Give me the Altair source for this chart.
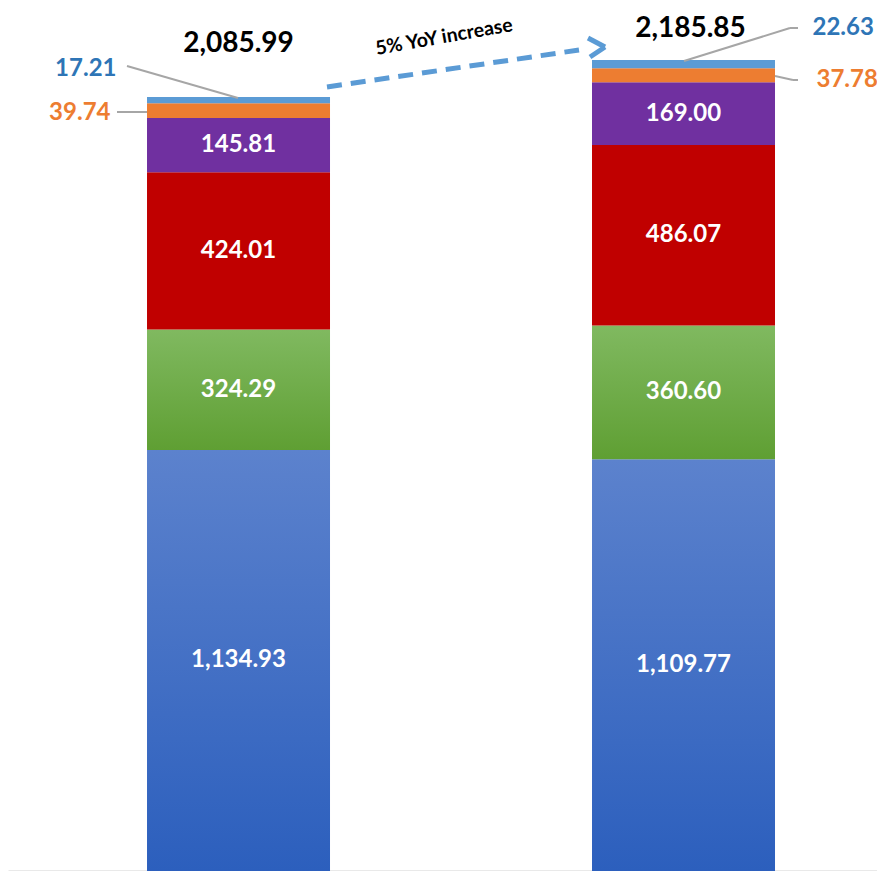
import altair as alt
import pandas as pd

years = ["Year 1", "Year 2"]
segments = ["s1", "s2", "s3", "s4", "s5", "s6"]
values_year1 = [1134.93, 324.29, 424.01, 145.81, 39.74, 17.21]
values_year2 = [1109.77, 360.60, 486.07, 169.00, 37.78, 22.63]
totals = [round(sum(values_year1), 2), round(sum(values_year2), 2)]
growth_label = "5% YoY increase"

fills = {
    "s1": {"gradient": "linear", "x1": 0, "y1": 0, "x2": 0, "y2": 1,
           "stops": [{"offset": 0, "color": "#5c82cd"}, {"offset": 1, "color": "#2c5fbd"}]},
    "s2": {"gradient": "linear", "x1": 0, "y1": 0, "x2": 0, "y2": 1,
           "stops": [{"offset": 0, "color": "#80b960"}, {"offset": 1, "color": "#5f9f33"}]},
    "s3": "#c00000",
    "s4": "#7030a0",
    "s5": "#ed7d31",
    "s6": "#5b9bd5",
}

rows = []
for yr, vals in zip(years, [values_year1, values_year2]):
    for i, (s, v) in enumerate(zip(segments, vals)):
        rows.append({"year": yr, "seg": s, "order": i, "value": v})
df = pd.DataFrame(rows)
tot_df = pd.DataFrame({"year": years, "total": totals})

W, H = 869, 863
ymax = 2325.8

x_enc = alt.X("year:N", sort=years,
              scale=alt.Scale(paddingInner=0.58876, paddingOuter=0.2708, align=0.5768),
              axis=alt.Axis(title=None, labels=False, ticks=False, domainColor="#d4d4d4",
                            domainWidth=2, grid=False))
y_scale = alt.Scale(domain=[0, ymax], nice=False, zero=True)

base = (alt.Chart(df)
        .transform_stack(stack="value", groupby=["year"], as_=["y0", "y1"],
                         sort=[alt.SortField("order", order="ascending")])
        .transform_calculate(ymid="(datum.y0 + datum.y1) / 2"))

layers = []
for s in segments:
    layers.append(
        base.transform_filter(alt.datum.seg == s)
        .mark_bar(fill=fills[s], stroke=None)
        .encode(x=x_enc,
                y=alt.Y("y0:Q", scale=y_scale, axis=None),
                y2="y1:Q")
    )

FONT = "Lato"

inside = (base.transform_filter(alt.datum.order <= 3)
          .mark_text(font=FONT, fontSize=24, fontWeight="bold", color="white", baseline="middle")
          .encode(x=x_enc, y=alt.Y("ymid:Q", scale=y_scale, axis=None),
                  text=alt.Text("value:Q", format=",.2f")))
layers.append(inside)

def outer(year, seg, field, dx, dy, align, color):
    return (base.transform_filter((alt.datum.year == year) & (alt.datum.seg == seg))
            .mark_text(font=FONT, fontSize=24, fontWeight="bold", color=color,
                       baseline="middle", align=align, dx=dx, dy=dy)
            .encode(x=x_enc, y=alt.Y(f"{field}:Q", scale=y_scale, axis=None),
                    text=alt.Text("value:Q", format=",.2f")))

layers.append(outer("Year 1", "s6", "y1", -122, -28, "right", "#2e75b6"))
layers.append(outer("Year 1", "s5", "ymid", -128, 2, "right", "#ed7d31"))
layers.append(outer("Year 2", "s6", "y1", 129, -32, "left", "#2e75b6"))
layers.append(outer("Year 2", "s5", "ymid", 133, 5, "left", "#ed7d31"))

tot_base = alt.Chart(tot_df)
for yr, dx, dy in [("Year 1", 0, -53), ("Year 2", 7, -31)]:
    layers.append(
        tot_base.transform_filter(alt.datum.year == yr)
        .mark_text(font=FONT, fontSize=28, fontWeight="bold", color="black",
                   baseline="middle", dx=dx, dy=dy)
        .encode(x=x_enc, y=alt.Y("total:Q", scale=y_scale, axis=None),
                text=alt.Text("total:Q", format=",.2f"))
    )

def seg_line(x1, y1, x2, y2, color="#a6a6a6", width=2, dash=None):
    kw = dict(color=color, strokeWidth=width, strokeCap="butt")
    if dash:
        kw["strokeDash"] = dash
    return (alt.Chart(tot_df.head(1)).mark_rule(**kw)
            .encode(x=alt.value(x1), y=alt.value(y1), x2=alt.value(x2), y2=alt.value(y2)))

# leader lines
layers.append(seg_line(119, 58, 230, 90))
layers.append(seg_line(109, 104, 139, 104))
layers.append(seg_line(676, 53, 782, 20))
layers.append(seg_line(782, 20, 790, 20))
layers.append(seg_line(767, 68, 785, 72))
layers.append(seg_line(785, 72, 790, 72))

# growth arrow
layers.append(seg_line(319, 79, 571, 42, color="#5b9bd5", width=5, dash=[15, 9]))
layers.append(seg_line(580, 30, 597, 39, color="#5b9bd5", width=5))
layers.append(seg_line(582, 49, 597, 39, color="#5b9bd5", width=5))
layers.append(
    alt.Chart(tot_df.head(1)).mark_text(font=FONT, fontSize=19.5, fontWeight="bold",
                                        color="black", angle=350, baseline="middle")
    .encode(x=alt.value(436), y=alt.value(29), text=alt.value(growth_label))
)

chart = (alt.layer(*layers)
         .properties(width=W, height=H, padding=0,
                     autosize=alt.AutoSizeParams(type="none"), background="white")
         .configure_view(stroke=None))

chart.save("out.html", embed_options={"renderer": "svg", "actions": False})
